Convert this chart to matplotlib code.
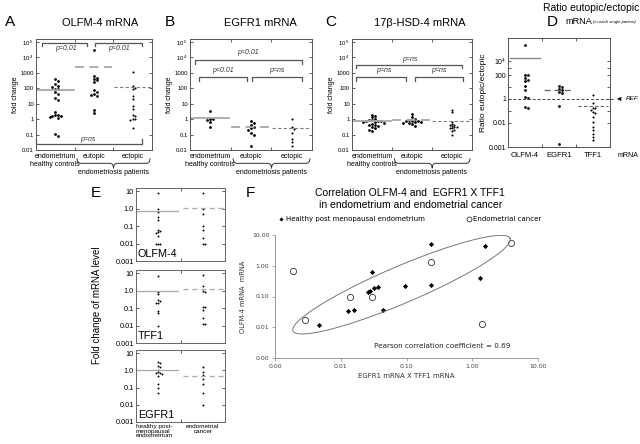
import numpy as np
import matplotlib
matplotlib.use("Agg")
import matplotlib.pyplot as plt
from matplotlib.path import Path
from matplotlib.patches import PathPatch
from matplotlib.transforms import blended_transform_factory

plt.rcParams['font.family'] = ['Liberation Sans', 'DejaVu Sans']
plt.rcParams['mathtext.fontset'] = 'custom'
plt.rcParams['mathtext.rm'] = 'Liberation Sans'
plt.rcParams['mathtext.it'] = 'Liberation Sans:italic'

# ==========================
# Data
# ==========================
groups = ["endometrium", "eutopic", "ectopic"]

olfm4_endo = [390, 300, 180, 150, 130, 95, 85, 60, 45, 22, 17, 2.8, 1.9, 1.8, 1.6, 1.5, 1.3, 1.2, 0.11, 0.08]
olfm4_eut = [3e4, 600, 500, 380, 330, 250, 75, 55, 45, 38, 32, 4.0, 2.5]
olfm4_ect = [1200, 150, 110, 90, 30, 20, 7, 4.5, 1.8, 1.5, 1.1, 1.0, 0.9, 0.25]

egfr1_endo = [3.2, 1.1, 1.0, 0.9, 0.65, 0.33]
egfr1_eut = [0.8, 0.55, 0.45, 0.3, 0.25, 0.2, 0.12, 0.09, 0.018]
egfr1_ect = [1.1, 0.3, 0.22, 0.12, 0.055, 0.035, 0.018]

hsd4_endo = [2.0, 1.6, 1.3, 1.0, 0.9, 0.85, 0.8, 0.8, 0.75, 0.7, 0.65, 0.6, 0.5, 0.45, 0.4, 0.35, 0.3, 0.25, 0.2, 0.18]
hsd4_eut = [2.1, 1.3, 1.1, 0.9, 0.8, 0.75, 0.75, 0.7, 0.65, 0.6, 0.55, 0.5, 0.35]
hsd4_ect = [4.2, 3.0, 0.7, 0.5, 0.45, 0.4, 0.35, 0.33, 0.3, 0.28, 0.25, 0.2, 0.18, 0.1]

# panel D: ratio eutopic/ectopic in each patient
ratio_genes = ["OLFM-4", "EGFR1", "TFF1"]
ratio_olfm4 = [2e5, 120, 110, 60, 40, 35, 12, 6, 1.4, 1.1, 0.2, 0.17]
ratio_egfr1 = [13, 11, 6.5, 5.5, 3.5, 3.0, 0.25, 0.0013]
ratio_tff1 = [2.2, 0.5, 0.19, 0.16, 0.13, 0.085, 0.07, 0.03, 0.012, 0.007, 0.005, 0.0036, 0.0026, 0.002]
# the D axis is drawn unevenly in the original: label value (log10) -> position
d_axis_logs = [-4, -3, -2, 0, 2, 4, 6]
d_axis_pos = [-512, -440, -368, -297, -226, -183, -112]

# panel E: post-menopausal endometrium vs endometrial cancer
e_groups = ["healthy", "cancer"]
e_olfm4_healthy = [7.5, 1.0, 0.6, 0.35, 0.22, 0.06, 0.05, 0.045, 0.04, 0.026, 0.01, 0.01, 0.01]
e_olfm4_cancer = [7.5, 0.9, 0.5, 0.1, 0.06, 0.02, 0.01, 0.01]
e_tff1_healthy = [7, 0.85, 0.6, 0.3, 0.25, 0.2, 0.2, 0.07, 0.05, 0.01]
e_tff1_cancer = [7.7, 1.8, 1.0, 0.8, 0.12, 0.12, 0.075, 0.027, 0.012, 0.012]
e_egfr1_healthy = [3.0, 2.5, 1.8, 1.6, 1.1, 0.8, 0.7, 0.7, 0.65, 0.45, 0.17, 0.1, 0.05]
e_egfr1_cancer = [1.5, 0.8, 0.5, 0.3, 0.15, 0.05, 0.01]

# panel F: OLFM-4 vs EGFR1 x TFF1
f_healthy_x = [0.0047, 0.013, 0.0157, 0.0443, 0.030, 0.0256, 0.0274, 0.0319, 0.0372, 0.0944, 0.237, 0.24, 1.30, 1.57]
f_healthy_y = [0.0121, 0.033, 0.0355, 0.0373, 0.64, 0.136, 0.155, 0.194, 0.204, 0.225, 0.231, 4.97, 0.39, 4.5]
f_cancer_x = [0.00187, 0.00286, 0.0136, 0.030, 0.234, 1.41, 3.89]
f_cancer_y = [0.675, 0.0172, 0.099, 0.099, 1.29, 0.0128, 5.5]
pearson_r = 0.69

W, H = 640, 444
fig = plt.figure(figsize=(6.4, 4.44), dpi=100)


def rect(x0, y0, x1, y1):
    return [x0 / W, 1 - y1 / H, (x1 - x0) / W, (y1 - y0) / H]


def swarm(vals, px_dec, d):
    # simple beeswarm: offsets in pixels
    ys = np.log10(vals) * px_dec
    placed, offs = [], []
    cands = [0] + [s * j * d for j in range(1, 20) for s in (1, -1)]
    for y in ys:
        for o in cands:
            if all((o - px) ** 2 + (y - py) ** 2 >= (0.95 * d) ** 2 for px, py in placed):
                break
        placed.append((o, y))
        offs.append(o)
    return np.array(offs)


def brace(ax, x0, x1, y_top, y_bot, lw=0.7):
    xm = (x0 + x1) / 2
    ym = (y_top + y_bot) / 2
    e = 0.1
    verts = [(x0, y_top), (x0, ym), (x0 + e, ym), (xm - e, ym), (xm, ym), (xm, y_bot),
             (xm, ym), (xm + e, ym), (x1 - e, ym), (x1, ym), (x1, y_top)]
    codes = [Path.MOVETO, Path.CURVE3, Path.CURVE3, Path.LINETO, Path.CURVE3, Path.CURVE3,
             Path.CURVE3, Path.CURVE3, Path.LINETO, Path.CURVE3, Path.CURVE3]
    tr = blended_transform_factory(ax.transData, ax.transAxes)
    ax.add_patch(PathPatch(Path(verts, codes), fill=False, lw=lw, color='#333333',
                           transform=tr, clip_on=False))


def bracket(ax, x0, x1, y, y_leg, color='#555555'):
    ax.plot([x0, x0, x1, x1], [y_leg, y, y, y_leg], color=color, lw=0.9, clip_on=False)


mean_styles = [dict(color='#a8a8a8', lw=1.3, ls='-'),
               dict(color='#a8a8a8', lw=1.3, ls=(0, (5, 3))),
               dict(color='#808080', lw=0.8, ls=(0, (3, 2)))]


def fold_panel(rect_px, series, ylim_top=10 ** 5.2):
    ax = fig.add_axes(rect(*rect_px))
    ax.set_yscale('log')
    ax.set_ylim(0.01, ylim_top)
    ax.set_xlim(-0.5, 2.5)
    w_px = rect_px[2] - rect_px[0]
    h_px = rect_px[3] - rect_px[1]
    px_dec = h_px / np.log10(ylim_top / 0.01)
    px_cat = w_px / 3
    for i, vals in enumerate(series):
        ms = 2.0 if i < 2 else 1.5
        d = 2.9 if i < 2 else 2.3
        off = swarm(vals, px_dec, d) / px_cat
        ax.plot(i + off, vals, 'o', ms=ms, color='black', mec='none', clip_on=False)
        ax.plot([i - 0.49, i + 0.47], [np.mean(vals)] * 2, **mean_styles[i])
    ax.set_yticks([0.01, 0.1, 1, 10, 100, 1000, 1e4, 1e5])
    ax.set_yticklabels(['0.01', '0.1', '1', '10', '100', '1000', '10$^{\\ 4}$', '10$^{\\ 5}$'])
    ax.yaxis.set_minor_locator(plt.NullLocator())
    ax.set_xticks([0.5, 1.5])
    ax.set_xticklabels([])
    ax.tick_params(direction='in', length=2.5, width=0.6, right=True, top=True,
                   labelsize=4.3, pad=1.5, color='#444444')
    for s in ax.spines.values():
        s.set_linewidth(0.7)
        s.set_color('#555555')
    ax.set_ylabel('fold change', fontsize=5, labelpad=1)
    tr = blended_transform_factory(ax.transData, ax.transAxes)
    ax.text(0, -0.063, 'endometrium', ha='center', va='center', fontsize=5, transform=tr)
    ax.text(0, -0.128, 'healthy controls', ha='center', va='center', fontsize=5, transform=tr)
    ax.text(1, -0.063, 'eutopic', ha='center', va='center', fontsize=5, transform=tr)
    ax.text(2, -0.063, 'ectopic', ha='center', va='center', fontsize=5, transform=tr)
    brace(ax, 0.56, 2.45, -0.075, -0.165)
    ax.text(1.5, -0.2, 'endometriosis patients', ha='center', va='center', fontsize=5, transform=tr)
    return ax


def ptext(ax, x, y, s):
    ax.text(x, y, s, ha='center', va='center', fontsize=5, style='italic', color='#333333')


# ==========================
# Panel A - OLFM-4
# ==========================
axA = fold_panel((36, 39, 152, 150), [olfm4_endo, olfm4_eut, olfm4_ect])
fig.text(5 / W, 1 - 22 / H, 'A', fontsize=11, va='center')
fig.text(100 / W, 1 - 23 / H, 'OLFM-4 mRNA', fontsize=8, ha='center', va='center')
bracket(axA, -0.35, 0.83, 10 ** 4.95, 10 ** 4.72)
bracket(axA, 1.03, 2.23, 10 ** 4.95, 10 ** 4.72)
ptext(axA, 0.28, 10 ** 4.6, 'p=0.01')
ptext(axA, 1.65, 10 ** 4.6, 'p<0.01')
bracket(axA, -0.5, 2.23, 10 ** -1.6, 10 ** -1.28)
ptext(axA, 0.85, 10 ** -1.3, 'p=ns')

# ==========================
# Panel B - EGFR1
# ==========================
axB = fold_panel((190, 39, 312, 150), [egfr1_endo, egfr1_eut, egfr1_ect])
fig.text(165 / W, 1 - 22 / H, 'B', fontsize=11, va='center')
fig.text(260 / W, 1 - 23 / H, 'EGFR1 mRNA', fontsize=8, ha='center', va='center')
bracket(axB, -0.38, 2.25, 10 ** 3.81, 10 ** 3.59)
ptext(axB, 0.93, 10 ** 4.3, 'p<0.01')
bracket(axB, -0.28, 0.9, 10 ** 2.71, 10 ** 2.49)
bracket(axB, 1.02, 2.25, 10 ** 2.71, 10 ** 2.49)
ptext(axB, 0.31, 10 ** 3.14, 'p<0.01')
ptext(axB, 1.64, 10 ** 3.14, 'p=ns')

# ==========================
# Panel C - 17b-HSD-4
# ==========================
axC = fold_panel((352, 39, 472, 150), [hsd4_endo, hsd4_eut, hsd4_ect])
fig.text(325 / W, 1 - 22 / H, 'C', fontsize=11, va='center')
fig.text(420 / W, 1 - 23 / H, '17β-HSD-4 mRNA', fontsize=8, ha='center', va='center')
bracket(axC, -0.4, 2.24, 10 ** 3.53, 10 ** 3.3)
ptext(axC, 0.95, 10 ** 3.85, 'p=ns')
bracket(axC, -0.4, 0.85, 10 ** 2.71, 10 ** 2.49)
bracket(axC, 1.07, 2.28, 10 ** 2.71, 10 ** 2.49)
ptext(axC, 0.3, 10 ** 3.14, 'p=ns')
ptext(axC, 1.68, 10 ** 3.14, 'p=ns')

# ==========================
# Panel D - ratio eutopic/ectopic
# ==========================
def d_fwd(v):
    return np.interp(np.log10(np.clip(v, 1e-12, None)), d_axis_logs, d_axis_pos)


def d_inv(p):
    return 10 ** np.interp(p, d_axis_pos, d_axis_logs)


axD = fig.add_axes(rect(508, 38, 610, 147))
axD.set_yscale('function', functions=(d_fwd, d_inv))
axD.set_ylim(10 ** -3, 10 ** 5.9)
axD.set_xlim(-0.5, 2.5)
d_px_cat = (610 - 508) / 3
for i, vals in enumerate([ratio_olfm4, ratio_egfr1, ratio_tff1]):
    ms = 2.0 if i < 2 else 1.5
    ys = d_fwd(np.array(vals)) / 3.0
    # swarm on the drawn positions
    placed, offs = [], []
    d = 2.9 if i < 2 else 2.3
    cands = [0] + [s * j * d for j in range(1, 20) for s in (1, -1)]
    for y in ys:
        for o in cands:
            if all((o - px) ** 2 + (y - py) ** 2 >= (0.95 * d) ** 2 for px, py in placed):
                break
        placed.append((o, y))
        offs.append(o)
    axD.plot(i + np.array(offs) / d_px_cat, vals, 'o', ms=ms, color='black', mec='none')
    axD.plot([i - 0.45, i + 0.45], [np.mean(vals)] * 2,
             **[dict(color='#888888', lw=1.0, ls='-'),
                dict(color='#666666', lw=0.9, ls=(0, (5, 3))),
                dict(color='#666666', lw=0.8, ls=(0, (3, 2)))][i])
axD.plot([-0.5, 2.6], [1, 1], color='#444444', lw=0.7, ls=(0, (3, 2)), clip_on=False)
axD.annotate('', xy=(2.62, 1), xytext=(2.93, 1), xycoords='data',
             arrowprops=dict(arrowstyle='-|>', color='black', lw=0, mutation_scale=8),
             annotation_clip=False)
axD.text(2.96, 1, 'REF', fontsize=4.6, style='italic', va='center', ha='left')
axD.set_yticks([1e-3, 1e-2, 1, 100, 1e4])
axD.set_yticklabels(['0.001', '0.01', '1', '100', '10$^{4}$'])
axD.set_yticks([1e-1, 10, 1e3], minor=True)
axD.set_xticks([0.5, 1.5])
axD.set_xticklabels([])
axD.tick_params(which='both', direction='in', length=2.5, width=0.6, right=True, top=True,
                labelsize=5, pad=1.5, color='#444444')
axD.tick_params(which='minor', labelleft=False)
for s in axD.spines.values():
    s.set_linewidth(0.7)
    s.set_color('#555555')
axD.set_ylabel('Ratio eutopic/ectopic', fontsize=6, labelpad=1)
trD = blended_transform_factory(axD.transData, axD.transAxes)
for i, g in enumerate(ratio_genes):
    axD.text(i, -0.075, g, ha='center', va='center', fontsize=5.5, transform=trD)
axD.text(3.03, -0.075, 'mRNA', ha='center', va='center', fontsize=5, transform=trD)
fig.text(591 / W, 1 - 8 / H, 'Ratio eutopic/ectopic', fontsize=7.5, ha='center', va='center')
fig.text(552 / W, 1 - 22 / H, 'D', fontsize=11, ha='center', va='center')
fig.text(565 / W, 1 - 22 / H, 'mRNA', fontsize=6.6, ha='left', va='center')
fig.text(593 / W, 1 - 22 / H, '(in each single patient)', fontsize=3.1, style='italic',
         ha='left', va='center')

# ==========================
# Panel E - endometrium vs cancer
# ==========================
e_series = [("OLFM-4", e_olfm4_healthy, e_olfm4_cancer, (188, 261)),
            ("TFF1", e_tff1_healthy, e_tff1_cancer, (270, 343)),
            ("EGFR1", e_egfr1_healthy, e_egfr1_cancer, (350, 422))]
for name, healthy, cancer, (y0, y1) in e_series:
    ax = fig.add_axes(rect(136, y0, 225, y1))
    ax.set_yscale('log')
    ax.set_ylim(0.001, 15)
    ax.set_xlim(-0.5, 1.5)
    px_dec = (y1 - y0) / np.log10(15 / 0.001)
    px_cat = (225 - 136) / 2
    for i, vals in enumerate([healthy, cancer]):
        off = swarm(vals, px_dec, 2.0) / px_cat
        ax.plot(i + off, vals, 'o', ms=1.4, color='black', mec='none')
    ax.plot([-0.48, 0.45], [np.mean(healthy)] * 2, color='#aaaaaa', lw=0.9)
    ax.plot([0.55, 1.5], [np.mean(cancer)] * 2, color='#aaaaaa', lw=0.9, ls=(0, (4, 3)))
    ax.set_yticks([0.001, 0.01, 0.1, 1, 10])
    ax.set_yticklabels(['0.001', '0.01', '0.1', '1.0', '10'])
    ax.yaxis.set_minor_locator(plt.NullLocator())
    ax.set_xticks([0.5])
    ax.set_xticklabels([])
    ax.tick_params(direction='in', length=2.5, width=0.6, right=True, top=True,
                   labelsize=5.3, pad=1.5, color='#444444')
    for s in ax.spines.values():
        s.set_linewidth(0.7)
        s.set_color('#666666')
    ax.text(0.02, 0.03, name, transform=ax.transAxes, fontsize=7.8, ha='left', va='bottom')
    if name == "EGFR1":
        trE = blended_transform_factory(ax.transData, ax.transAxes)
        ax.text(-0.5, -0.03, 'healthy post-\nmenopausal\nendometrium', transform=trE,
                fontsize=4.6, ha='left', va='top', linespacing=0.85)
        ax.text(1.0, -0.03, 'endometrial\ncancer', transform=trE,
                fontsize=4.6, ha='center', va='top', linespacing=0.85)
fig.text(96 / W, 1 - 193 / H, 'E', fontsize=11, ha='center', va='center')
fig.text(97 / W, 1 - 305 / H, 'Fold change of mRNA level', fontsize=7, rotation=90,
         ha='center', va='center')

# ==========================
# Panel F - correlation
# ==========================
axF = fig.add_axes(rect(275, 235, 538, 358))
axF.set_xscale('log')
axF.set_yscale('log')
axF.set_xlim(1e-3, 10)
axF.set_ylim(1e-3, 10)
h1 = axF.scatter(f_healthy_x, f_healthy_y, marker='D', s=7, c='black', linewidths=0)
h2 = axF.scatter(f_cancer_x, f_cancer_y, marker='o', s=20, facecolors='white',
                 edgecolors='#333333', linewidths=0.6)

# ellipse around the points (in screen space)
bb = axF.get_position()
px_x = bb.width * W / 4
px_y = bb.height * H / 4
cx, cy = -1.076, -0.615
a_px, b_px, ang = 118.0, 18.5, np.deg2rad(23.1)
t = np.linspace(0, 2 * np.pi, 200)
ex = a_px * np.cos(t) * np.cos(ang) - b_px * np.sin(t) * np.sin(ang)
ey = a_px * np.cos(t) * np.sin(ang) + b_px * np.sin(t) * np.cos(ang)
axF.plot(10 ** (cx + ex / px_x), 10 ** (cy + ey / px_y), color='#777777', lw=0.7)

ticks = [1e-3, 1e-2, 1e-1, 1, 10]
labs = ['0.00', '0.01', '0.10', '1.00', '10.00']
axF.set_xticks(ticks)
axF.set_xticklabels(labs)
axF.set_yticks(ticks)
axF.set_yticklabels(labs)
axF.xaxis.set_minor_locator(plt.NullLocator())
axF.yaxis.set_minor_locator(plt.NullLocator())
axF.spines['top'].set_visible(False)
axF.spines['right'].set_visible(False)
for s in ['left', 'bottom']:
    axF.spines[s].set_linewidth(0.6)
    axF.spines[s].set_color('#888888')
axF.tick_params(length=2, width=0.5, color='#888888', labelsize=4.5, labelcolor='#444444', pad=2)
for lab in axF.get_xticklabels() + axF.get_yticklabels():
    lab.set_family('DejaVu Sans')
axF.set_xlabel('EGFR1 mRNA X TFF1 mRNA', fontsize=5, family='DejaVu Sans', color='#333333', labelpad=3)
axF.set_ylabel('OLFM-4 mRNA  mRNA', fontsize=4.8, family='DejaVu Sans', color='#333333', labelpad=4)
axF.text(3.8, 0.0025, 'Pearson correlation coefficient = %.2f' % pearson_r, fontsize=5.2,
         family='DejaVu Sans', ha='right', va='center', color='#222222')
fig.legend([h1, h2], ['Healthy post menopausal endometrium', 'Endometrial cancer'],
           loc='center', bbox_to_anchor=(410 / W, 1 - 219 / H), ncol=2, frameon=False,
           prop={'family': 'DejaVu Sans', 'size': 5}, handletextpad=0.2, columnspacing=6,
           handlelength=0.8, markerscale=0.8)
fig.text(250 / W, 1 - 193 / H, 'F', fontsize=11, ha='center', va='center')
fig.text(410 / W, 1 - 193 / H, 'Correlation OLFM-4 and  EGFR1 X TFF1', fontsize=7.5,
         ha='center', va='center')
fig.text(411 / W, 1 - 205 / H, 'in endometrium and endometrial cancer', fontsize=7.5,
         ha='center', va='center')

fig.savefig('out.png', dpi=100)
